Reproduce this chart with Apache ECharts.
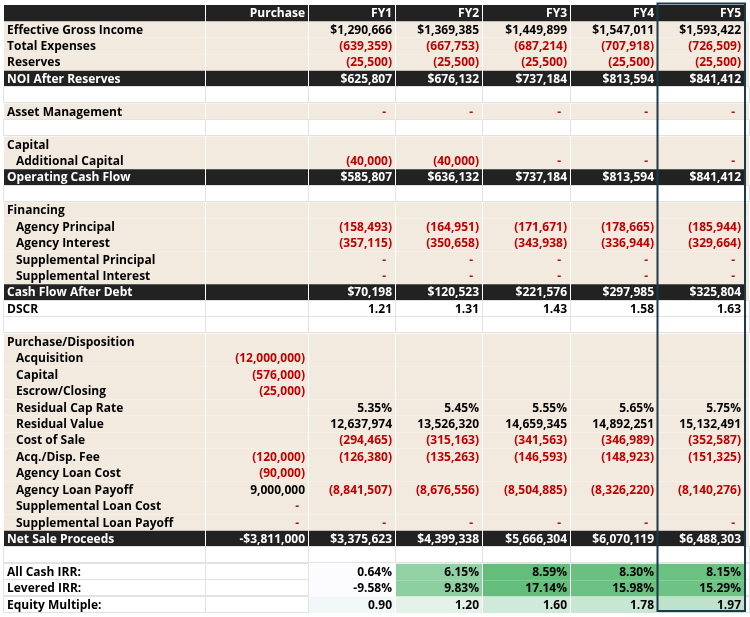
<!DOCTYPE html>
<html><head><meta charset="utf-8">
<script src="https://cdn.jsdelivr.net/npm/echarts@6/dist/echarts.min.js"></script>
<style>html,body{margin:0;padding:0;background:#fff}#chart{width:750px;height:617px}</style>
</head><body><div id="chart"></div>
<script>
// ---------- DATA ----------
const columnHeaders = ['Purchase', 'FY1', 'FY2', 'FY3', 'FY4', 'FY5'];
const effectiveGrossIncome = [null, 1290666, 1369385, 1449899, 1547011, 1593422];
const totalExpenses = [null, -639359, -667753, -687214, -707918, -726509];
const reserves = [null, -25500, -25500, -25500, -25500, -25500];
const noiAfterReserves = [null, 625807, 676132, 737184, 813594, 841412];
const assetManagement = [null, 0, 0, 0, 0, 0];
const additionalCapital = [null, -40000, -40000, 0, 0, 0];
const operatingCashFlow = [null, 585807, 636132, 737184, 813594, 841412];
const agencyPrincipal = [null, -158493, -164951, -171671, -178665, -185944];
const agencyInterest = [null, -357115, -350658, -343938, -336944, -329664];
const supplementalPrincipal = [null, 0, 0, 0, 0, 0];
const supplementalInterest = [null, 0, 0, 0, 0, 0];
const cashFlowAfterDebt = [null, 70198, 120523, 221576, 297985, 325804];
const dscr = [null, 1.21, 1.31, 1.43, 1.58, 1.63];
const acquisition = [-12000000, null, null, null, null, null];
const capitalPurchase = [-576000, null, null, null, null, null];
const escrowClosing = [-25000, null, null, null, null, null];
const residualCapRate = [null, 5.35, 5.45, 5.55, 5.65, 5.75];
const residualValue = [null, 12637974, 13526320, 14659345, 14892251, 15132491];
const costOfSale = [null, -294465, -315163, -341563, -346989, -352587];
const acqDispFee = [-120000, -126380, -135263, -146593, -148923, -151325];
const agencyLoanCost = [-90000, null, null, null, null, null];
const agencyLoanPayoff = [9000000, -8841507, -8676556, -8504885, -8326220, -8140276];
const supplementalLoanCost = [0, null, null, null, null, null];
const supplementalLoanPayoff = [0, 0, 0, 0, 0, 0];
const netSaleProceeds = [-3811000, 3375623, 4399338, 5666304, 6070119, 6488303];
const allCashIRR = [null, 0.64, 6.15, 8.59, 8.30, 8.15];
const leveredIRR = [null, -9.58, 9.83, 17.14, 15.98, 15.29];
const equityMultiple = [null, 0.90, 1.20, 1.60, 1.78, 1.97];

// ---------- TABLE (built from the arrays) ----------
const rows = [
  {label: '', kind: 'header'},
  {label: 'Effective Gross Income', kind: 'beige', fmt: 'money', values: effectiveGrossIncome},
  {label: 'Total Expenses', kind: 'beige', fmt: 'money', values: totalExpenses},
  {label: 'Reserves', kind: 'beige', fmt: 'money', values: reserves},
  {label: 'NOI After Reserves', kind: 'dark', fmt: 'money', values: noiAfterReserves},
  {label: '', kind: 'blank'},
  {label: 'Asset Management', kind: 'beige', fmt: 'acct', values: assetManagement},
  {label: '', kind: 'blank'},
  {label: 'Capital', kind: 'beige'},
  {label: 'Additional Capital', indent: true, kind: 'beige', fmt: 'acct', values: additionalCapital},
  {label: 'Operating Cash Flow', kind: 'dark', fmt: 'money', values: operatingCashFlow},
  {label: '', kind: 'blank'},
  {label: 'Financing', kind: 'beige'},
  {label: 'Agency Principal', indent: true, kind: 'beige', fmt: 'acct', values: agencyPrincipal},
  {label: 'Agency Interest', indent: true, kind: 'beige', fmt: 'acct', values: agencyInterest},
  {label: 'Supplemental Principal', indent: true, kind: 'beige', fmt: 'acct', values: supplementalPrincipal},
  {label: 'Supplemental Interest', indent: true, kind: 'beige', fmt: 'acct', values: supplementalInterest},
  {label: 'Cash Flow After Debt', kind: 'dark', fmt: 'money', values: cashFlowAfterDebt},
  {label: 'DSCR', kind: 'white', fmt: 'dec', values: dscr},
  {label: '', kind: 'blank'},
  {label: 'Purchase/Disposition', kind: 'beige'},
  {label: 'Acquisition', indent: true, kind: 'beige', fmt: 'acct', values: acquisition},
  {label: 'Capital', indent: true, kind: 'beige', fmt: 'acct', values: capitalPurchase},
  {label: 'Escrow/Closing', indent: true, kind: 'beige', fmt: 'acct', values: escrowClosing},
  {label: 'Residual Cap Rate', indent: true, kind: 'beige', fmt: 'pct', values: residualCapRate},
  {label: 'Residual Value', indent: true, kind: 'beige', fmt: 'acct', values: residualValue},
  {label: 'Cost of Sale', indent: true, kind: 'beige', fmt: 'acct', values: costOfSale},
  {label: 'Acq./Disp. Fee', indent: true, kind: 'beige', fmt: 'acct', values: acqDispFee},
  {label: 'Agency Loan Cost', indent: true, kind: 'beige', fmt: 'acct', values: agencyLoanCost},
  {label: 'Agency Loan Payoff', indent: true, kind: 'beige', fmt: 'acct', values: agencyLoanPayoff},
  {label: 'Supplemental Loan Cost', indent: true, kind: 'beige', fmt: 'acct', values: supplementalLoanCost},
  {label: 'Supplemental Loan Payoff', indent: true, kind: 'beige', fmt: 'acct', values: supplementalLoanPayoff},
  {label: 'Net Sale Proceeds', kind: 'dark', fmt: 'money', values: netSaleProceeds},
  {label: '', kind: 'blank'},
  {label: 'All Cash IRR:', kind: 'irr', fmt: 'pct', values: allCashIRR},
  {label: 'Levered IRR:', kind: 'irr', fmt: 'pct', values: leveredIRR},
  {label: 'Equity Multiple:', kind: 'irr', fmt: 'dec', values: equityMultiple, scale: [0.7, 3.85]}
];

// ---------- LAYOUT / STYLE ----------
const colEdges = [0, 202, 305, 392, 479, 567, 654, 741, 746];
const BEIGE = '#F2EADF', DARK = '#222222', RED = '#C00000', DASH = '#B01010', GRIDC = '#E2E2E2';
const FONT = 'bold 12px "Open Sans", "Noto Sans", sans-serif';
const GREEN_LO = [252, 252, 255], GREEN_HI = [99, 190, 123];

function commas(n) { return Math.round(n).toString().replace(/\B(?=(\d{3})+(?!\d))/g, ','); }
function fmtValue(v, fmt, dark) {
  if (v === null || v === undefined) return null;
  if (fmt === 'pct') return {t: v.toFixed(2) + '%', c: dark ? '#fff' : '#000'};
  if (fmt === 'dec') return {t: v.toFixed(2), c: '#000'};
  if (v === 0) return {t: '-', c: DASH, dash: true};
  if (fmt === 'money') {
    if (dark) return {t: (v < 0 ? '-$' : '$') + commas(Math.abs(v)), c: '#fff'};
    return v < 0 ? {t: '(' + commas(-v) + ')', c: RED} : {t: '$' + commas(v), c: '#000'};
  }
  return v < 0 ? {t: '(' + commas(-v) + ')', c: RED} : {t: commas(v), c: '#000'};
}
function scaleColor(row, v) {
  const vals = row.values.filter(x => x !== null);
  const lo = row.scale ? row.scale[0] : Math.min(...vals);
  const hi = row.scale ? row.scale[1] : Math.max(...vals);
  let t = (v - lo) / (hi - lo); t = Math.max(0, Math.min(1, t));
  const c = GREEN_LO.map((a, i) => Math.round(a + (GREEN_HI[i] - a) * t));
  return 'rgb(' + c.join(',') + ')';
}

const cellData = [];
rows.forEach((r, ri) => { for (let c = 0; c < 8; c++) cellData.push([c, ri]); });

function renderCell(params, api) {
  const c = api.value(0), r = api.value(1);
  const row = rows[r];
  const pL = api.coord([colEdges[c], r]);
  const pR = api.coord([colEdges[c + 1], r]);
  const h = api.size([0, 1])[1];
  const xl = pL[0], xr = pR[0], yc = pL[1], yt = yc - h / 2;
  const children = [];
  let fill = null, grid = false;
  const k = row.kind;
  if (k === 'header') fill = c === 7 ? '#FFFFFF' : DARK;
  else if (k === 'dark') fill = c === 7 ? BEIGE : DARK;
  else if (k === 'beige') fill = BEIGE;
  else if (k === 'blank' || k === 'white') grid = true;
  else if (k === 'irr') {
    if (c >= 2 && c <= 6) fill = scaleColor(row, row.values[c - 1]);
    else grid = true;
  }
  if (grid) {
    children.push({type: 'rect', shape: {x: Math.round(xl) - 0.5, y: Math.round(yt) - 0.5, width: Math.round(xr - xl), height: Math.round(h)},
      style: {fill: '#fff', stroke: GRIDC, lineWidth: 1}});
  } else if (fill) {
    children.push({type: 'rect', shape: {x: xl, y: yt, width: Math.max(0, xr - xl - 1), height: h}, style: {fill: fill}});
  }
  const dark = (k === 'header' || k === 'dark');
  if (c === 0 && row.label) {
    children.push({type: 'text', style: {text: row.label, x: xl + (row.indent ? 12 : 3), y: yc + 0.5,
      align: 'left', verticalAlign: 'middle', font: FONT, fill: dark ? '#fff' : '#000'}});
  } else if (c >= 1 && c <= 6) {
    if (k === 'header') {
      children.push({type: 'text', style: {text: columnHeaders[c - 1], x: xr - 4, y: yc + 0.5,
        align: 'right', verticalAlign: 'middle', font: FONT, fill: '#fff'}});
    } else if (row.values) {
      const f = fmtValue(row.values[c - 1], row.fmt, dark);
      if (f) children.push({type: 'text', style: {text: f.t, x: xr - (f.dash ? 10 : 4), y: yc + 0.5,
        align: 'right', verticalAlign: 'middle', font: FONT, fill: f.c}});
    }
  }
  return {type: 'group', children: children};
}

function renderOutline(params, api) {
  const top = api.coord([colEdges[6], 0]);
  const bot = api.coord([colEdges[7], rows.length - 1]);
  const h = api.size([0, 1])[1];
  const y0 = top[1] - h / 2 - 1.5, y1 = bot[1] + h / 2 - 2;
  return {type: 'rect', shape: {x: top[0] - 0.5, y: y0, width: bot[0] - top[0] + 0.5, height: y1 - y0},
    style: {fill: null, stroke: '#1B3A4C', lineWidth: 2}};
}

const chart = echarts.init(document.getElementById('chart'), null, {renderer: 'canvas'});
chart.setOption({
  animation: false,
  backgroundColor: '#ffffff',
  grid: {left: 4, top: 5, width: 746, height: 608},
  xAxis: {type: 'value', min: 0, max: 746, show: false},
  yAxis: {type: 'category', inverse: true, show: false, data: rows.map((r, i) => String(i))},
  series: [
    {type: 'custom', renderItem: renderCell, data: cellData, encode: {x: 0, y: 1}, clip: false, silent: true},
    {type: 'custom', renderItem: renderOutline, data: [[6, 0]], encode: {x: 0, y: 1}, clip: false, silent: true, z: 5}
  ]
});
</script>
</body></html>
